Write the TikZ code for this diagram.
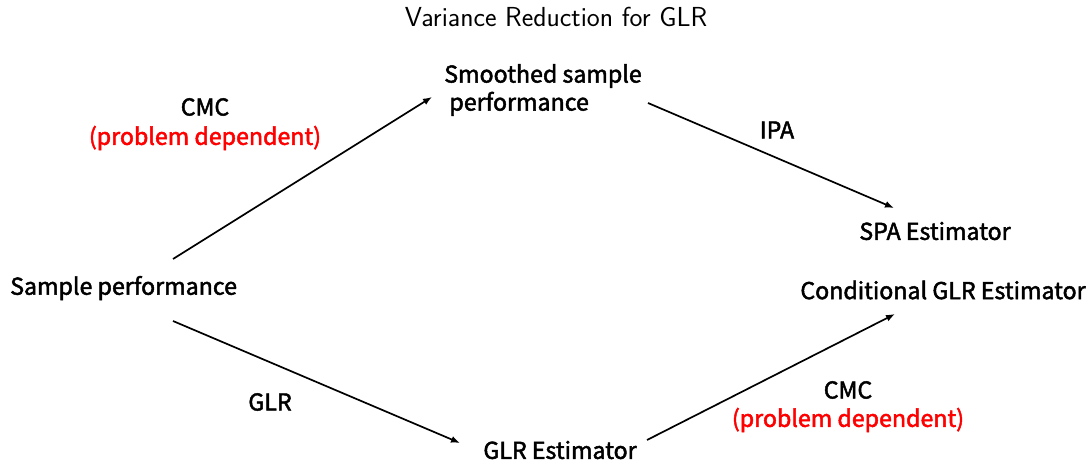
\documentclass[tikz,border=0pt]{standalone}
\usepackage{fontspec}
\setmainfont{Noto Sans CJK SC}[FakeBold=2]
\newfontfamily\titlefont{Latin Modern Sans}
\usetikzlibrary{arrows.meta}
\begin{document}
\begin{tikzpicture}[x=1pt,y=-1pt,
  lbl/.style={inner sep=0pt, font=\fontsize{23.2}{28}\selectfont, align=center},
  red lbl/.style={lbl, text=red},
  conn/.style={line width=1.7pt, -{Latex[length=9pt,width=7pt]}}]
\useasboundingbox (0,0) rectangle (1091,470);
\node[inner sep=0pt, font=\titlefont\fontsize{27.5}{32}\selectfont] (title) at (556,17) {Variance Reduction for GLR};
\node[lbl, anchor=west] (sp) at (10,288) {Sample performance};
\node[lbl, align=left] (ss) at (543,90) {Smoothed sample\\\ performance};
\node[lbl] (spa) at (935,231) {SPA Estimator};
\node[lbl] (cglr) at (943,290) {Conditional GLR Estimator};
\node[lbl] (glre) at (560,450) {GLR Estimator};
\node[lbl] (cmc1) at (205,107) {CMC};
\node[red lbl] (pd1) at (205,138) {(problem dependent)};
\node[lbl] (ipa) at (777,130) {IPA};
\node[lbl] (glr) at (270,402) {GLR};
\node[lbl] (cmc2) at (848,390) {CMC};
\node[red lbl] (pd2) at (848,420) {(problem dependent)};
\coordinate (a1s) at (173,259); \coordinate (a1e) at (432,97);
\coordinate (a2s) at (648,103); \coordinate (a2e) at (894,208);
\coordinate (a3s) at (173,321); \coordinate (a3e) at (460,443);
\coordinate (a4s) at (647,440); \coordinate (a4e) at (895,314);
\draw[conn] (a1s) -- (a1e);
\draw[conn] (a2s) -- (a2e);
\draw[conn] (a3s) -- (a3e);
\draw[conn] (a4s) -- (a4e);
\end{tikzpicture}
\end{document}
